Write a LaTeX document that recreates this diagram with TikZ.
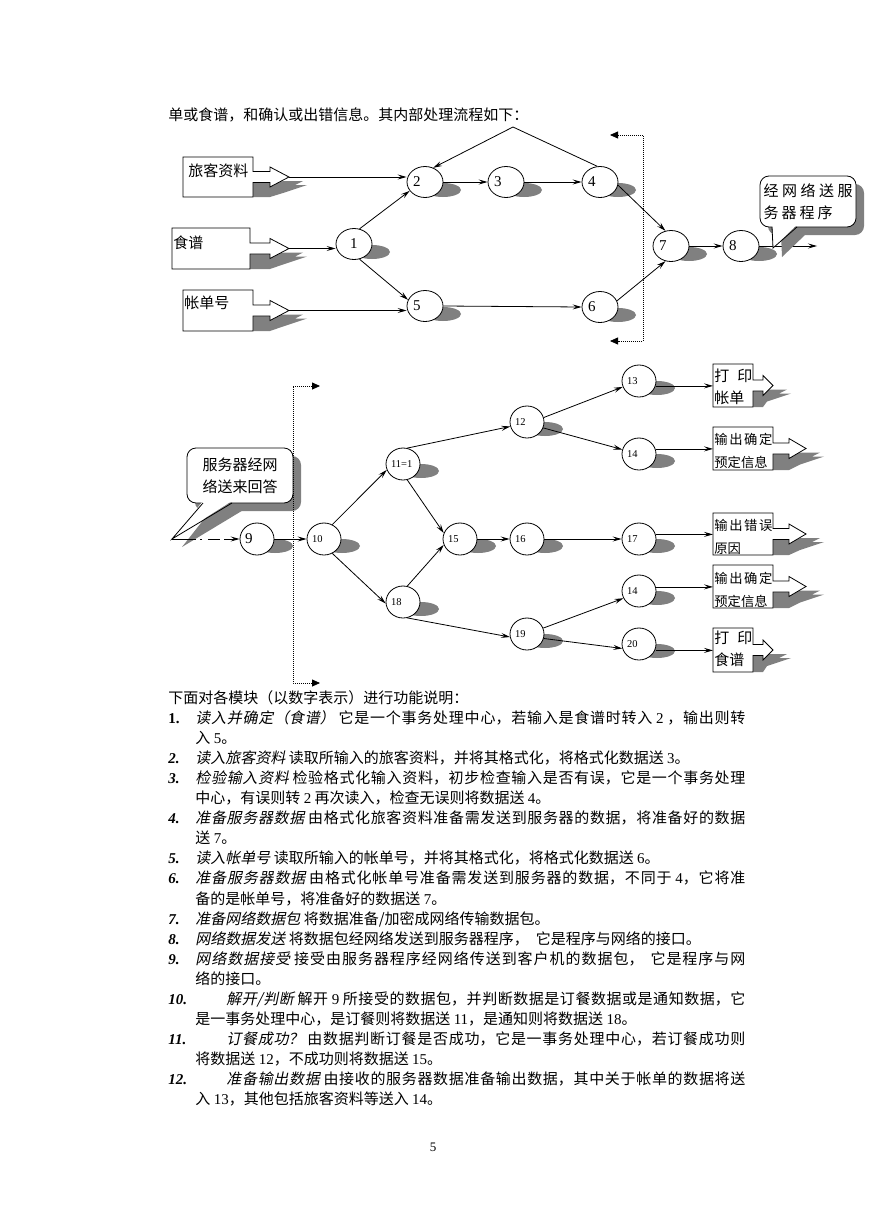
\documentclass[tikz,border=0pt]{standalone}
\usepackage{fontspec}
\setmainfont{Noto Sans CJK SC}
\newfontfamily\tnr{Liberation Serif}
\newfontfamily\cjkit[FakeSlant=0.2]{Noto Sans CJK SC}
\usetikzlibrary{arrows.meta, shapes.geometric, shadows}
\XeTeXlinebreaklocale "zh"
\XeTeXlinebreakskip=0pt plus 3pt
\definecolor{shd}{RGB}{128,128,128}
\newcommand\dg[1]{{\tnr #1}}
\newcommand\kw[1]{{\cjkit #1}}
\newcommand\itemno[1]{{\tnr\bfseries\itshape #1}}
\newcommand\fullline[2]{\parbox[t]{#1pt}{\parfillskip=0pt #2}}
% 带箭头的输入/输出框: 名称, 左, 上, 宽, 高, 箭杆长, 箭头长
\newcommand\obox[7]{%
  \pgfmathsetmacro\oxe{#2+#4}\pgfmathsetmacro\ocy{#3+#5/2}%
  \pgfmathsetmacro\oxs{\oxe+#6}\pgfmathsetmacro\oxt{\oxs+#7}\pgfmathsetmacro\oyb{#3+#5}%
  \fill[shd] (\oxe,\ocy+5.5) -- (\oxs,\ocy+5.5) -- (\oxt-4,\ocy+4) -- (\oxt+14,\ocy+4) -- (\oxt+6,\ocy+8)
    -- (\oxt+18,\ocy+8) -- (\oxt-6,\ocy+16) -- (\oxs,\oyb) -- (\oxe,\oyb) -- cycle;
  \draw[fill=white] (#2,#3) -- (\oxe,#3) -- (\oxe,\ocy-5.5) -- (\oxs,\ocy-5.5) -- (\oxs,\ocy-10) -- (\oxt,\ocy)
    -- (\oxs,\ocy+10) -- (\oxs,\ocy+5.5) -- (\oxe,\ocy+5.5) -- (\oxe,\oyb) -- (#2,\oyb) -- cycle;
  \node[inner sep=0pt, minimum width=#4pt, minimum height=#5pt, anchor=north west] (#1) at (#2,#3) {};
  \coordinate (#1-tip) at (\oxt,\ocy);
}

\begin{document}
\begin{tikzpicture}[x=1pt, y=-1pt, line width=0.8pt, >={Stealth[length=9pt,width=5pt,inset=3.5pt]},
  st/.style={ellipse, draw, fill=white, minimum width=36pt, minimum height=31pt, inner sep=0pt,
    text width=24pt, align=left, font=\tnr\fontsize{15}{15}\selectfont},
  st2/.style={st, minimum width=34pt, minimum height=32pt, font=\tnr\fontsize{10.5}{10.5}\selectfont},
  txt/.style={anchor=base west, inner sep=0pt, font=\fontsize{15}{20}\selectfont},
  btxt/.style={anchor=base west, inner sep=0pt, text width=62pt, align=left, font=\fontsize{15}{22}\selectfont},
  btxt2/.style={btxt, font=\fontsize{13.3}{23}\selectfont},
  bubble/.style={draw, fill=white, rounded corners=9pt, inner sep=0pt, align=left,
    font=\fontsize{15}{22}\selectfont, general shadow={fill=shd, shadow xshift=8pt, shadow yshift=-8pt}},
  bracket/.style={dash pattern=on 1pt off 1pt, {Triangle[length=8pt,width=7pt]}-{Triangle[length=8pt,width=7pt]}}]
\useasboundingbox (0,0) rectangle (869,1228);
\fill[white] (0,0) rectangle (869,1228);

\node[txt] (head) at (168,121) {单或食谱，和确认或出错信息。其内部处理流程如下：};

% 上图: 输入框
\obox{b1}{183}{157}{70}{40}{17}{19}
\obox{b2}{172}{228}{78}{41}{20}{19}
\obox{b3}{183}{290}{70}{41}{17}{19}
\node[btxt] (t1) at (188,176) {旅客资料};
\node[btxt] (t2) at (173,248) {食谱};
\node[btxt] (t3) at (184,308) {帐单号};

% 上图: 处理节点
\foreach \nm/\x/\y/\lb in {n1/354/244/{\hspace*{8pt}1}, n2/425/182/2, n3/506/182/3, n4/600/182/4,
    n5/425/306/5, n6/600/307/6, n7/671/246/7, n8/741/246/8}{
  \fill[shd] (\x+18,\y+8) ellipse [x radius=18, y radius=7];
  \node[st] (\nm) at (\x,\y) {\lb};
}

% 上图: 连线
\draw[->] (b1-tip) -- (b1-tip -| n2.west);
\draw[->] (b2-tip) -- (b2-tip -| n1.west);
\draw[->] (b3-tip) -- (b3-tip -| n5.west);
\draw[->] (n1.70) -- (n2.210);
\draw[->] (n1.-70) -- (n5.160);
\draw[->] (n2.east) -- (n3.west);
\draw[->] (n3.east) -- (n4.west);
\draw[->] (n5.east) -- (n6.west);
\coordinate (fb) at (513,127);
\draw[->] (n4.100) -- (fb) -- (n2.60);
\draw[->] (n4.-10) -- (n7.110);
\draw[->] (n6.20) -- (n7.250);
\draw[->] (n7) -- (n8);
\coordinate (out8) at (817,246);
\draw[->] (n8) -- (out8);

% 虚线边界
\draw[bracket] (610,135) -- (643,135) -- (643,341) -- (610,341);

% 标注: 经网络送服务器程序
\node[bubble, minimum width=96pt, minimum height=51pt] (c1) at (808,201.5)
  {\makebox[89pt][s]{经\hfill 网\hfill 络\hfill 送\hfill 服}\\\makebox[69pt][s]{务\hfill 器\hfill 程\hfill 序}};
\fill[shd] (781,234) -- (806,234) -- (782,257) -- cycle;
\coordinate (c1tip) at (773,248);
\fill[white] (772.4,225) -- (796.6,225) -- (c1tip) -- cycle;
\draw (772,227) -- (c1tip) -- (797,227);

% 下图: 标注: 服务器经网络送来回答
\node[bubble, minimum width=106pt, minimum height=55pt, align=center] (c2) at (240,475.5) {服务器经网\\络送来回答};
\fill[shd] (212,509) -- (245,509) -- (182,547) -- cycle;
\coordinate (c2tip) at (172,539);
\fill[white] (203,501) -- (232,501) -- (c2tip) -- cycle;
\draw (203,503) -- (c2tip) -- (232,503);

% 下图: 处理节点
\foreach \nm/\x/\y/\lb in {n9/257/539/{\fontsize{15}{15}\selectfont 9}, n10/324/539/10, n11/403/464/11=1,
    n18/403/602/18, n15/460/539/15, n12/527/422/12, n13/639/381/13, n14a/639/454/14,
    n16/527/539/16, n17/639/539/17, n14b/639/591/14, n19/527/634/19, n20/639/644/20}{
  \fill[shd] (\x+18,\y+7) ellipse [x radius=18, y radius=7];
  \node[st2] (\nm) at (\x,\y) {\lb};
}

% 下图: 输出框
\obox{o13}{713}{364}{40}{43}{10}{10}
\obox{o14a}{713}{427}{60}{43}{16}{17}
\obox{o17}{713}{513}{60}{42}{16}{17}
\obox{o14b}{713}{565}{60}{43}{16}{17}
\obox{o20}{713}{628}{40}{44}{10}{10}
\node[btxt] (t13) at (714,381) {\makebox[38pt][s]{打\hfill 印}\\帐单};
\node[btxt2] (t14a) at (714,444) {\makebox[58pt][s]{输\hfill 出\hfill 确\hfill 定}\\预定信息};
\node[btxt2] (t17) at (714,530) {\makebox[58pt][s]{输\hfill 出\hfill 错\hfill 误}\\原因};
\node[btxt2] (t14b) at (714,583) {\makebox[58pt][s]{输\hfill 出\hfill 确\hfill 定}\\预定信息};
\node[btxt] (t20) at (714,643) {\makebox[38pt][s]{打\hfill 印}\\食谱};

% 下图: 连线
\draw[->, line width=1pt, dash pattern=on 24pt off 4pt on 2pt off 6pt on 12pt off 4pt] (c2tip) -- (n9.west);
\draw[->] (n9) -- (n10);
\foreach \a/\b in {n10.60/n11.200, n10.-60/n18.185, n11.75/n12.195, n11.-75/n15.160, n18.75/n15.200,
    n18.-75/n19.190, n12.15/n13.200, n12.-20/n14a.165, n19.20/n14b.205, n19.-15/n20.195}
  \draw[->] (\a) -- (\b);
\draw[->] (n15) -- (n16);
\draw[->] (n16) -- (n17);
\foreach \a/\b in {n13/o13, n14a/o14a, n17/o17, n14b/o14b, n20/o20}
  \draw[->] (\a.east |- \b.west) -- (\b.west);

% 虚线边界
\draw[bracket] (320,386) -- (293,386) -- (293,683) -- (320,683);

% 功能说明
\node[txt] (l0) at (168,703) {下面对各模块（以数字表示）进行功能说明：};
\node[txt] (m1) at (168,723) {{\tnr\bfseries 1.}};
\node[txt] (l1) at (195,723) {\fullline{550}{\kw{读入并确定（食谱）} 它是一个事务处理中心，若输入是食谱时转入 \dg{2} ，输出则转}};
\node[txt] (l2) at (195,743) {入 \dg{5}。};
\node[txt] (m2) at (168,763) {\itemno{2.}};
\node[txt] (l3) at (195,763) {\kw{读入旅客资料} 读取所输入的旅客资料，并将其格式化，将格式化数据送 \dg{3}。};
\node[txt] (m3) at (168,783) {\itemno{3.}};
\node[txt] (l4) at (195,783) {\fullline{550}{\kw{检验输入资料} 检验格式化输入资料，初步检查输入是否有误，它是一个事务处理}};
\node[txt] (l5) at (195,803) {中心，有误则转 \dg{2} 再次读入，检查无误则将数据送 \dg{4}。};
\node[txt] (m4) at (168,823) {\itemno{4.}};
\node[txt] (l6) at (195,823) {\fullline{550}{\kw{准备服务器数据} 由格式化旅客资料准备需发送到服务器的数据，将准备好的数据}};
\node[txt] (l7) at (195,843) {送 \dg{7}。};
\node[txt] (m5) at (168,863) {\itemno{5.}};
\node[txt] (l8) at (195,863) {\kw{读入帐单号} 读取所输入的帐单号，并将其格式化，将格式化数据送 \dg{6}。};
\node[txt] (m6) at (168,883) {\itemno{6.}};
\node[txt] (l9) at (195,883) {\fullline{550}{\kw{准备服务器数据} 由格式化帐单号准备需发送到服务器的数据，不同于 \dg{4}，它将准}};
\node[txt] (l10) at (195,904) {备的是帐单号，将准备好的数据送 \dg{7}。};
\node[txt] (m7) at (168,924) {\itemno{7.}};
\node[txt] (l11) at (195,924) {\kw{准备网络数据包} 将数据准备/加密成网络传输数据包。};
\node[txt] (m8) at (168,944) {\itemno{8.}};
\node[txt] (l12) at (195,944) {\kw{网络数据发送} 将数据包经网络发送到服务器程序，\hspace{7pt}它是程序与网络的接口。};
\node[txt] (m9) at (168,964) {\itemno{9.}};
\node[txt] (l13) at (195,964) {\fullline{550}{\kw{网络数据接受} 接受由服务器程序经网络传送到客户机的数据包，\hspace{7pt}它是程序与网}};
\node[txt] (l14) at (195,984) {络的接口。};
\node[txt] (m10) at (168,1004) {\itemno{10.}};
\node[txt] (l15) at (226,1004) {\fullline{519}{\kw{解开/判断} 解开 \dg{9} 所接受的数据包，并判断数据是订餐数据或是通知数据，它}};
\node[txt] (l16) at (195,1024) {是一事务处理中心，是订餐则将数据送 \dg{11}，是通知则将数据送 \dg{18}。};
\node[txt] (m11) at (168,1044) {\itemno{11.}};
\node[txt] (l17) at (226,1044) {\fullline{519}{\kw{订餐成功？} 由数据判断订餐是否成功，它是一事务处理中心，若订餐成功则}};
\node[txt] (l18) at (195,1064) {将数据送 \dg{12}，不成功则将数据送 \dg{15}。};
\node[txt] (m12) at (168,1084) {\itemno{12.}};
\node[txt] (l19) at (226,1084) {\fullline{519}{\kw{准备输出数据} 由接收的服务器数据准备输出数据，其中关于帐单的数据将送}};
\node[txt] (l20) at (195,1104) {入 \dg{13}，其他包括旅客资料等送入 \dg{14}。};

\node[anchor=base, inner sep=0pt, font=\tnr\fontsize{13}{13}\selectfont] (pg) at (433,1151) {5};
\end{tikzpicture}
\end{document}
